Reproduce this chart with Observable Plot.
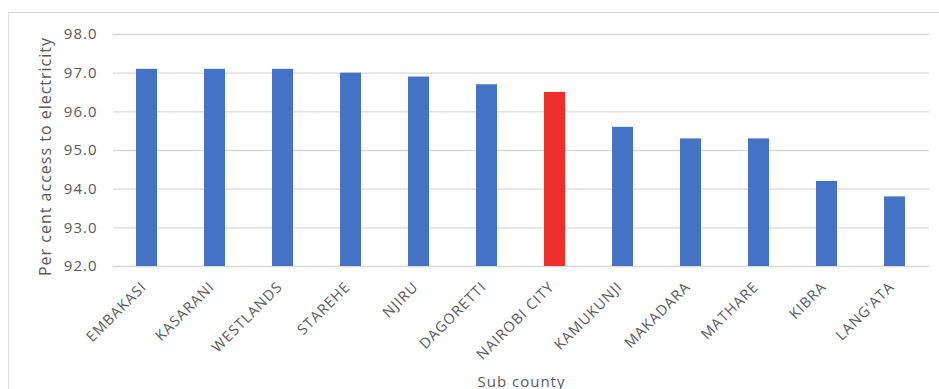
<!DOCTYPE html>
<html>
<head>
<meta charset="utf-8">
<script src="https://cdn.jsdelivr.net/npm/d3@7"></script>
<script src="https://cdn.jsdelivr.net/npm/@observablehq/plot@0.6"></script>
<style>
  html, body { margin: 0; padding: 0; background: #fff; overflow: hidden; }
  #chart { position: relative; width: 939px; height: 389px; }
  #frame {
    position: absolute; left: 8px; top: 12px; width: 960px; height: 420px;
    border: 1px solid #d9d9d9; box-sizing: border-box; pointer-events: none;
  }
</style>
</head>
<body>
<div id="chart"><div id="frame"></div></div>
<script>
// Household access to electricity by sub county, Nairobi
const subCounties = [
  "EMBAKASI", "KASARANI", "WESTLANDS", "STAREHE", "NJIRU", "DAGORETTI",
  "NAIROBI CITY", "KAMUKUNJI", "MAKADARA", "MATHARE", "KIBRA", "LANG'ATA"
];
const accessPct = [97.1, 97.1, 97.1, 97.0, 96.9, 96.7, 96.5, 95.6, 95.3, 95.3, 94.2, 93.8];
const cityTotal = "NAIROBI CITY";
const yTicks = [92, 93, 94, 95, 96, 97, 98];
const yTitle = "Per cent access to electricity";
const xTitle = "Sub county";

const rows = subCounties.map((name, i) => ({name, value: accessPct[i]}));

const chart = Plot.plot({
  width: 939,
  height: 389,
  marginLeft: 113,
  marginRight: 10,
  marginTop: 34,
  marginBottom: 123,
  style: {
    background: "transparent",
    fontFamily: "'Open Sans', sans-serif",
    color: "#595959",
    letterSpacing: "1px"
  },
  x: {domain: subCounties, paddingInner: 0.69, paddingOuter: 0.345, axis: null},
  y: {domain: [92, 98], axis: null},
  color: {type: "identity"},
  marks: [
    Plot.gridY(yTicks, {stroke: "#d9d9d9", strokeOpacity: 1, strokeWidth: 1.3}),
    Plot.barY(rows, {
      x: "name",
      y1: yTicks[0],
      y2: "value",
      fill: (d) => (d.name === cityTotal ? "#ee2e2b" : "#4472c4")
    }),
    Plot.axisY(yTicks, {
      tickSize: 0,
      tickPadding: 16,
      tickFormat: (d) => d.toFixed(1),
      fontSize: 15,
      label: null
    }),
    // rotated sub county names under each bar
    Plot.text(subCounties, {
      x: (d) => d,
      text: (d) => d,
      frameAnchor: "bottom",
      rotate: -45,
      textAnchor: "end",
      lineAnchor: "middle",
      dx: -3,
      dy: 18,
      fontSize: 14.5,
      style: {letterSpacing: "0.7px"}
    }),
    Plot.text([yTitle], {
      text: (d) => d,
      frameAnchor: "left",
      textAnchor: "middle",
      lineAnchor: "middle",
      rotate: -90,
      dx: -68,
      dy: 6,
      fontSize: 16
    }),
    Plot.text([xTitle], {
      text: (d) => d,
      frameAnchor: "bottom",
      textAnchor: "middle",
      lineAnchor: "middle",
      dy: 116,
      fontSize: 15
    })
  ]
});

document.getElementById("chart").prepend(chart);
</script>
</body>
</html>
